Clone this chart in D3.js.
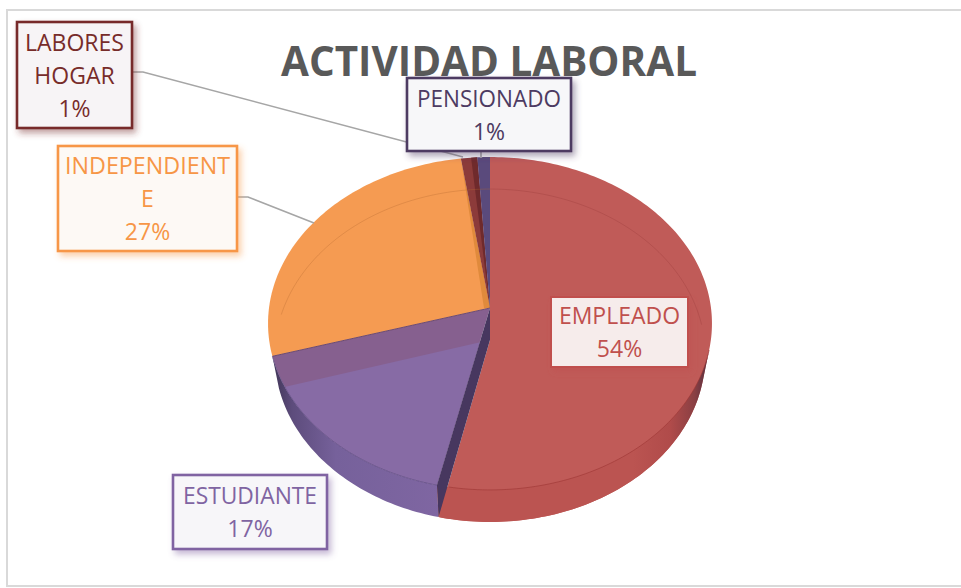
<!DOCTYPE html>
<html><head><meta charset="utf-8">
<script src="https://cdn.jsdelivr.net/npm/d3@7"></script>
<style>html,body{margin:0;padding:0;background:#fff}svg{display:block}</style>
</head><body><svg id="c" width="961" height="588"></svg>
<script>
const categories=["EMPLEADO","ESTUDIANTE","INDEPENDIENTE","LABORES HOGAR","PENSIONADO"];
const values=[53.5,16.9,27.3,1.3,1.0];
const labelLines=[["EMPLEADO"],["ESTUDIANTE"],["INDEPENDIENT","E"],["LABORES","HOGAR"],["PENSIONADO"]];
const faceColors=["#c05b58","#876ba5","#f59b52","#8c3b3a","#5a4a7c"];
const labelColors=["#c0504d","#8064a2","#f79646","#772c2a","#4d3b62"];
const labelFills=["#f6eceb","#f7f6f9","#fdf9f5","#f7f4f6","#f7f7f9"];
const title="ACTIVIDAD LABORAL";

const svg=d3.select("#c");
const defs=svg.append("defs");

// perspective projection of the unit disc; the lower face sits further away and reads narrower
const cx=490, apexY=308, depth=32, R=221, k=-0.093, b=165, lowerShrink=0.97;
const project=(th,dz=0,r=1)=>{const u=r*Math.sin(th),v=-r*Math.cos(th),d=1+k*v,s=dz?lowerShrink:1;
  return [cx+s*R*u/d, apexY+dz+b*v/d];};
const arcs=d3.pie().sort(null).value(d=>d)(values);
const arcPts=(a0,a1,dz=0,rev=false)=>{const n=Math.max(2,Math.ceil(Math.abs(a1-a0)/0.02));
  const p=d3.range(n+1).map(i=>project(a0+(a1-a0)*i/n,dz)); return rev?p.reverse():p;};
const line=d3.line();
const P=(pts)=>line(pts)+"Z";
const apexU=project(0,0,0), apexL=project(0,depth,0);
const [red,pur,ora,lab,pen]=arcs;
const wideR=Math.PI*0.58;   // where the wall leaves the silhouette on the right
const wideL=pur.endAngle;

const grad=(id,stops)=>{const g=defs.append("linearGradient").attr("id",id).attr("gradientUnits","userSpaceOnUse")
  .attr("x1",stops.x1).attr("x2",stops.x2).attr("y1",0).attr("y2",0);
  stops.s.forEach(([o,c])=>g.append("stop").attr("offset",o).attr("stop-color",c));};
grad("rimR",{x1:440,x2:708,s:[[0,"#bb5451"],[0.72,"#bb5451"],[0.86,"#b04b4a"],[0.95,"#8a3f43"],[1,"#573040"]]});
grad("rimP",{x1:272,x2:440,s:[[0,"#3f3455"],[0.12,"#5d4c7c"],[0.38,"#76619b"],[1,"#7f66a2"]]});

const g=svg.append("g");
svg.insert("rect","g").attr("x",7).attr("y",10).attr("width",980).attr("height",576)
  .attr("fill","#fff").attr("stroke","#d9d9d9").attr("stroke-width",2);

// purple front wall
g.append("path").attr("d",P([...arcPts(red.endAngle,wideL),...arcPts(red.endAngle,wideL,depth,true)])).attr("fill","url(#rimP)");

// purple: cut-wall band and floor
const wedgeU=P([apexU,...arcPts(pur.startAngle,pur.endAngle)]);
const wedgeL=P([apexL,...arcPts(pur.startAngle,pur.endAngle,depth)]);
defs.append("clipPath").attr("id","clipU").append("path").attr("d",wedgeU);
g.append("path").attr("d",wedgeU).attr("fill","#86608f");
g.append("path").attr("d",wedgeL).attr("clip-path","url(#clipU)").attr("fill",faceColors[1]);

// red face and its front wall
g.append("path").attr("d",P([apexL,[cx,apexU[1]],...arcPts(0,wideR),...arcPts(wideR,red.endAngle,depth)])).attr("fill",faceColors[0]);
g.append("path").attr("d",P([...arcPts(wideR,red.endAngle),...arcPts(wideR,red.endAngle,depth,true)])).attr("fill","url(#rimR)");

// dark wall between purple and red
g.append("path").attr("d",P([apexU,project(red.endAngle),project(red.endAngle,depth),apexL])).attr("fill","#47375f");

// orange, labores, pensionado
g.append("path").attr("d",P([apexU,...arcPts(ora.startAngle,ora.endAngle)])).attr("fill",faceColors[2]);
g.append("path").attr("d",P([project(ora.endAngle),[apexU[0]-6,apexU[1]],apexU])).attr("fill","#e08a3c");
g.append("path").attr("d",P([apexU,...arcPts(lab.startAngle,lab.endAngle)])).attr("fill",faceColors[3]);
g.append("path").attr("d",P([apexU,...arcPts((lab.startAngle+lab.endAngle)/2+0.01,lab.endAngle)])).attr("fill","#6f2a2c");
g.append("path").attr("d",P([apexU,...arcPts(pen.startAngle,pen.endAngle)])).attr("fill",faceColors[4]);

// faint see-through outlines
g.append("path").attr("d",line(arcPts(-Math.PI*0.45,0,depth))).attr("fill","none").attr("stroke","#b5682f").attr("stroke-opacity",.4).attr("stroke-width",.8);
g.append("path").attr("d",line(arcPts(0,Math.PI*0.47,depth))).attr("fill","none").attr("stroke","#8c2f2d").attr("stroke-opacity",.3).attr("stroke-width",.8);
g.append("path").attr("d",line(arcPts(wideR,red.endAngle-0.05))).attr("fill","none").attr("stroke","#9c3533").attr("stroke-opacity",.6).attr("stroke-width",1);
g.append("path").attr("d",line(arcPts(red.endAngle,pur.endAngle))).attr("fill","none").attr("stroke","#5a4a80").attr("stroke-opacity",.6).attr("stroke-width",1);
g.append("path").attr("d",line([apexU,project(pur.endAngle)])).attr("fill","none").attr("stroke","#6b4a72").attr("stroke-width",1);

// title
svg.append("text").text(title).attr("x",489).attr("y",76).attr("text-anchor","middle")
  .attr("font-family","'Open Sans'").attr("font-weight",700).attr("font-size",41).attr("fill","#595959")
  .attr("textLength",416).attr("lengthAdjust","spacingAndGlyphs");

// leader lines
const leaders=[[[133,72],[143,72],[463,157]],[[238,197],[248,197],[314,223]],[[481,151],[481,158]]];
leaders.forEach(l=>svg.append("path").attr("d",line(l)).attr("fill","none").attr("stroke","#a6a6a6").attr("stroke-width",1.6));

// label boxes
const boxes=[[551,297,137,70],[173,475,154,74],[58,146,179,105],[17,22,115,106],[407,78,164,73]];
const fmt=v=>Math.round(v)+"%";
values.forEach((v,i)=>{
  const [x,y,w,h]=boxes[i], col=labelColors[i];
  const f=defs.append("filter").attr("id","sh"+i).attr("x","-20%").attr("y","-20%").attr("width","150%").attr("height","150%");
  f.append("feDropShadow").attr("dx",3).attr("dy",4).attr("stdDeviation",3).attr("flood-color",col).attr("flood-opacity",.45);
  svg.append("rect").attr("x",x).attr("y",y).attr("width",w).attr("height",h)
    .attr("fill",labelFills[i]).attr("stroke",col).attr("stroke-width",i==0?2:2.6).attr("filter",`url(#sh${i})`);
  const lines=[...labelLines[i],fmt(v)];
  const lh=33, first=y+h/2-(lines.length-1)*lh/2+8.5;
  lines.forEach((t,j)=>svg.append("text").text(t).attr("x",x+w/2).attr("y",first+j*lh)
    .attr("text-anchor","middle").attr("font-family","'Open Sans'").attr("font-size",23).attr("fill",col)
    .attr("textLength",t.length>9?w-(i==2?14:i==4?20:i==1?20:26):null).attr("lengthAdjust","spacingAndGlyphs"));
});
</script></body></html>
